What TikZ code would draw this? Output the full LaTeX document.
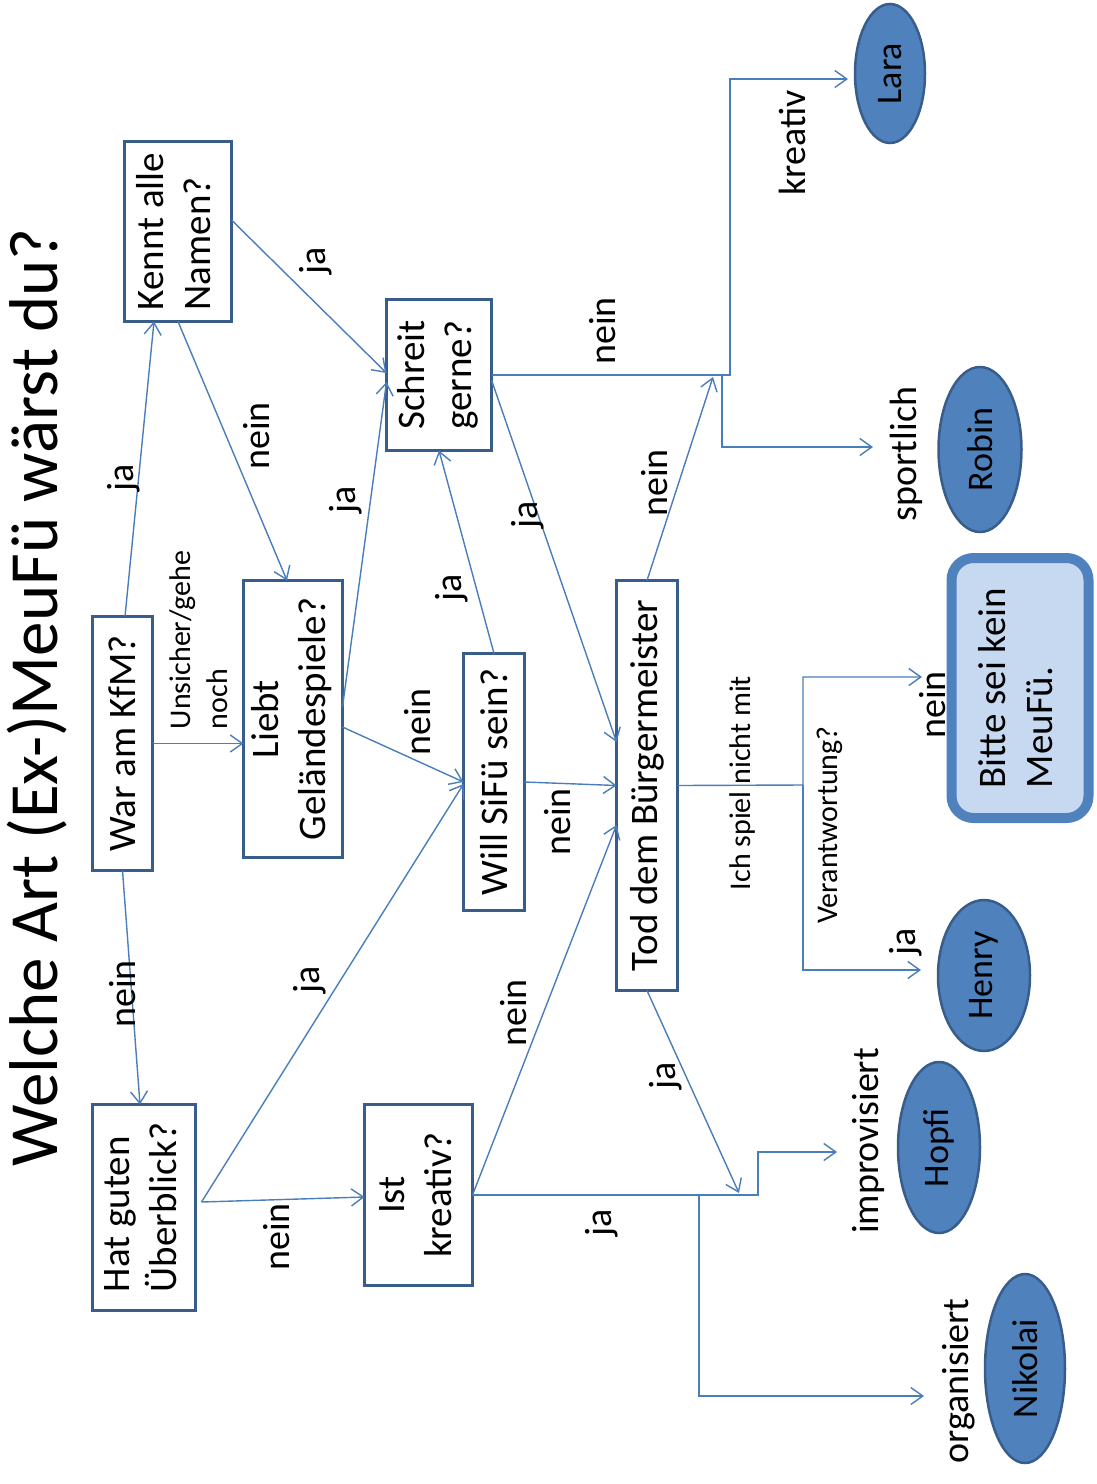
\documentclass[tikz,border=0pt]{standalone}
\usepackage{fontspec}
\setmainfont{Carlito}
\usepackage{graphicx}
\usetikzlibrary{arrows.meta,shapes.geometric,calc}
\definecolor{boxc}{HTML}{385D8A}
\definecolor{linec}{HTML}{4A7EBB}
\definecolor{elf}{HTML}{4F81BD}
\definecolor{elc}{HTML}{385D8A}
\definecolor{bittef}{HTML}{C6D9F1}
\definecolor{bittec}{HTML}{4F81BD}
\tikzset{
  qbox/.style={draw=boxc, line width=3.5pt, fill=white, inner sep=0pt, outer sep=0pt,
    font=\fontsize{39}{47}\selectfont},
  person/.style={ellipse, draw=elc, fill=elf, line width=2.5pt, inner sep=0pt, outer sep=0pt,
    font=\fontsize{36}{43}\selectfont},
  lab/.style={rotate=90, inner sep=0pt, font=\fontsize{38}{45}\selectfont},
  slab/.style={rotate=90, inner sep=0pt, align=left, font=\fontsize{30}{37}\selectfont},
  conn/.style={draw=linec, line width=1.4pt, -{Straight Barb[length=12pt,width=17pt]}},
  plainline/.style={draw=linec, line width=1.4pt}
}
\newcommand{\vtwo}[2]{\rotatebox{90}{\begin{tabular}{@{}l@{}}#1\\#2\end{tabular}}}
\newcommand{\vtwoc}[2]{\rotatebox{90}{\begin{tabular}{@{}c@{}}#1\\#2\end{tabular}}}
\begin{document}
\begin{tikzpicture}[x=1pt,y=-1pt]
\useasboundingbox (0,0) rectangle (1096,1484);

% title
\node[rotate=90, anchor=base west, inner sep=0pt, font=\fontsize{69}{72}\selectfont] (title) at (57.5,1167) {Welche Art (Ex-)MeuFü wärst du?};

% question boxes
\node[qbox, minimum width=107, minimum height=180] (Kennt) at (178,231.5) {\vtwo{Kennt alle}{Namen?}};
\node[qbox, minimum width=105, minimum height=151] (Schreit) at (439,375) {\vtwo{Schreit}{gerne?}};
\node[qbox, minimum width=60, minimum height=254] (War) at (122.5,743.5) {\rotatebox{90}{War am KfM?}};
\node[qbox, minimum width=99, minimum height=277] (Liebt) at (293,719) {\vtwoc{Liebt}{Geländespiele?}};
\node[qbox, minimum width=61, minimum height=257] (Will) at (494,782) {\rotatebox{90}{Will SiFü sein?}};
\node[qbox, minimum width=61, minimum height=410] (Tod) at (647,785.5) {\rotatebox{90}{Tod dem Bürgermeister}};
\node[qbox, minimum width=103, minimum height=206] (Hat) at (144,1207.5) {\vtwo{Hat guten}{Überblick?}};
\node[qbox, minimum width=108, minimum height=181] (Ist) at (418.5,1195) {\vtwoc{Ist}{kreativ?}};
\node[draw=bittec, fill=bittef, line width=10pt, rounded corners=22pt, inner sep=0pt,
  minimum width=137, minimum height=260, font=\fontsize{39}{47}\selectfont] (Bitte) at (1020,688) {\vtwo{Bitte sei kein}{MeuFü.}};

% persons
\node[person, minimum width=70, minimum height=139] (Lara) at (890,73.5) {\rotatebox{90}{Lara}};
\node[person, minimum width=83, minimum height=165] (Robin) at (980,449.5) {\rotatebox{90}{Robin}};
\node[person, minimum width=92, minimum height=151] (Henry) at (984,975.5) {\rotatebox{90}{Henry}};
\node[person, minimum width=82, minimum height=171] (Hopfi) at (939,1147.5) {\rotatebox{90}{Hopfi}};
\node[person, minimum width=80, minimum height=189] (Nikolai) at (1025,1368.5) {\rotatebox{90}{Nikolai}};

% helper coordinates
\coordinate (kpt) at (730,375);
\coordinate (spt) at (722,375);
\coordinate (laraend) at (848,79);
\coordinate (sportend) at (873,447);
\coordinate (vpt) at (803,785);
\coordinate (neinend) at (922,677);
\coordinate (henryend) at (921,970);
\coordinate (ipt) at (758,1195);
\coordinate (opt) at (699,1195);
\coordinate (improend) at (837,1152);
\coordinate (orgaend) at (924,1396);
\coordinate (tja) at (739,1193);
\coordinate (tnein) at (713,377);

% connectors
\draw[conn] ([xshift=2.5]War.north) -- ([xshift=-24]Kennt.south);
\draw[conn] (Kennt.south) -- ([xshift=-6]Liebt.north);
\draw[conn] ([yshift=11.5]Kennt.east) -- ([yshift=2]Schreit.west);
\draw[conn] (War.east) -- (War.east -| Liebt.west);
\draw[conn] ([yshift=12]Liebt.east) -- ([yshift=-7]Schreit.west);
\draw[conn] ([yshift=-8]Liebt.east) -- (Will.west);
\draw[conn] (Will.north) -- (Schreit.south);
\draw[conn] ([yshift=-5]Schreit.east) -- ([yshift=43.5]Tod.west);
\draw[conn] (Will.east) -- (Tod.west);
\draw[conn] ([xshift=6,yshift=5.5]Hat.east) -- ([yshift=-2]Will.west);
\draw[conn] ([xshift=6,yshift=5.5]Hat.east) -- ([yshift=-2]Ist.west);
\draw[conn] (Ist.east) -- ([yshift=-39.5]Tod.west);
\draw[conn] (War.south) -- ([xshift=-4]Hat.north);
\draw[conn] (Tod.south) -- (tja);
\draw[conn] (Tod.north) -- (tnein);
\draw[conn] (Schreit.east) -- (Schreit.east -| kpt) |- (laraend);
\draw[conn] (spt) |- (sportend);
\draw[conn] (Tod.east) -- (vpt) |- (neinend);
\draw[conn] (vpt) |- (henryend);
\draw[conn] (Ist.east) -- (ipt) |- (improend);
\draw[conn] (opt) |- (orgaend);

% labels
\node[lab] (l1) at (124,478) {ja};
\node[lab] (l2) at (257,436) {nein};
\node[lab] (l3) at (316,261) {ja};
\node[lab] (l4) at (346,500) {ja};
\node[lab] (l5) at (452,588) {ja};
\node[lab] (l6) at (418,722) {nein};
\node[lab] (l7) at (528,515) {ja};
\node[lab] (l8) at (558,822) {nein};
\node[lab] (l9) at (655,483) {nein};
\node[lab] (l10) at (603,331) {nein};
\node[lab] (l11) at (792,143) {kreativ};
\node[lab] (l12) at (906,454) {sportlich};
\node[lab] (l13) at (310,980) {ja};
\node[lab] (l14) at (277,1237) {nein};
\node[lab] (l15) at (514,1013) {nein};
\node[lab] (l16) at (123,994) {nein};
\node[lab] (l17) at (666,1076) {ja};
\node[lab] (l18) at (602,1223) {ja};
\node[lab] (l19) at (868,1141) {improvisiert};
\node[lab] (l20) at (959,1381) {organisiert};
\node[lab] (l21) at (933,705) {nein};
\node[lab] (l22) at (906,942) {ja};
\node[slab] (l23) at (199,640) {Unsicher/gehe\\noch};
\node[slab] (l24) at (742,783) {Ich spiel nicht mit};
\node[slab] (l25) at (830,825) {Verantwortung?};
\end{tikzpicture}
\end{document}
